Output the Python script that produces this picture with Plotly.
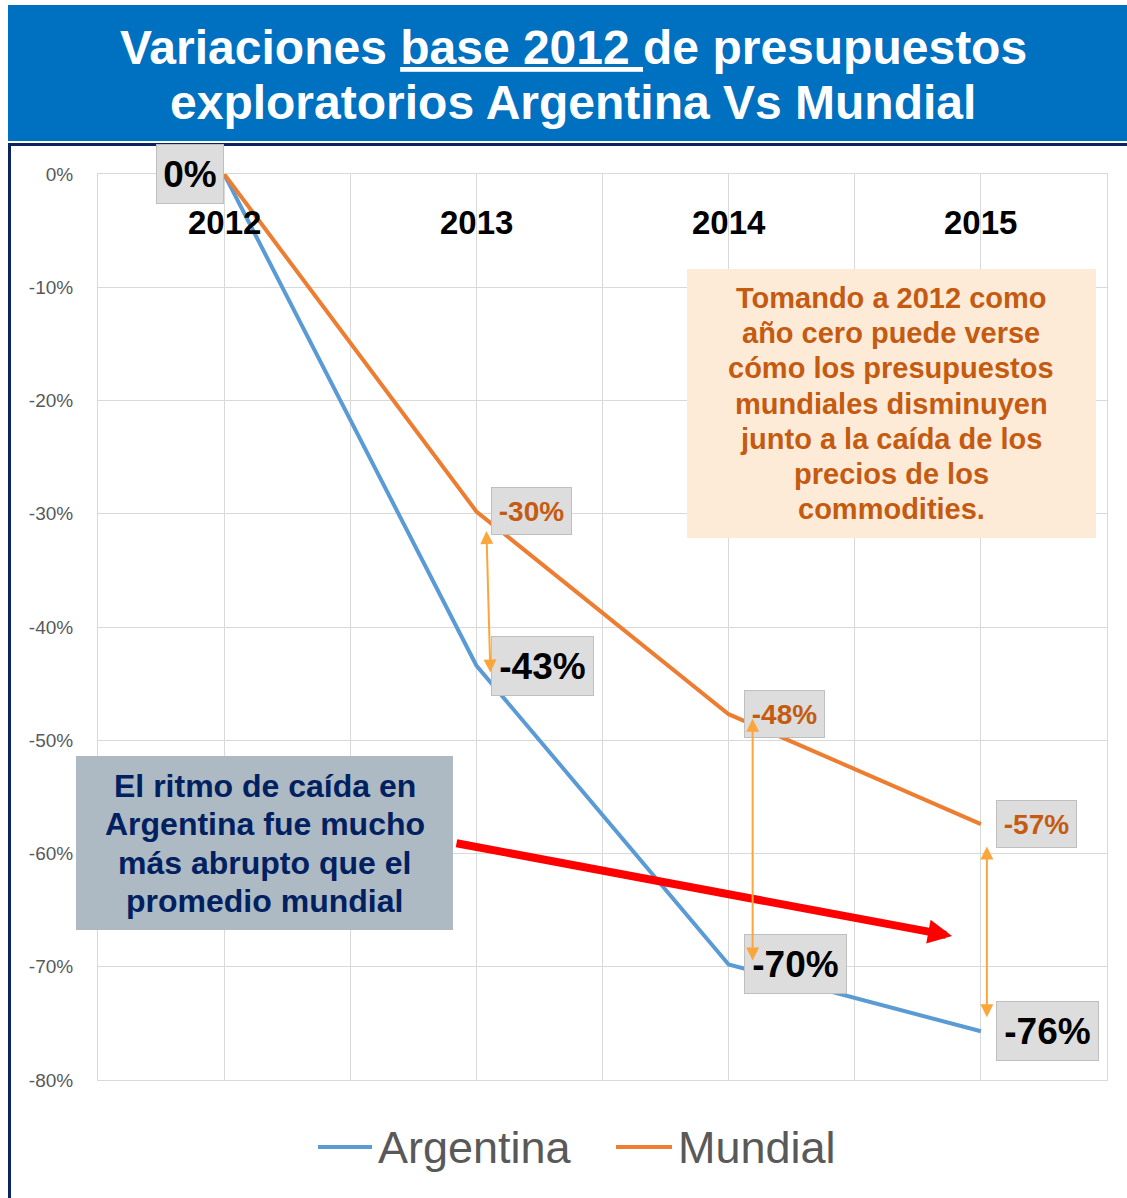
import plotly.graph_objects as go

# ---------------- data ----------------
years = ["2012", "2013", "2014", "2015"]
argentina = [0.0, -0.434, -0.698, -0.757]
mundial = [0.0, -0.298, -0.477, -0.574]
series_names = ["Argentina", "Mundial"]
y_ticks = [0.0, -0.1, -0.2, -0.3, -0.4, -0.5, -0.6, -0.7, -0.8]
y_tick_labels = ["0%", "-10%", "-20%", "-30%", "-40%", "-50%", "-60%", "-70%", "-80%"]
title_lines = ["Variaciones <u>base 2012 </u>de presupuestos",
               "exploratorios Argentina Vs Mundial"]
note_world = ["Tomando a 2012 como", "año cero puede verse", "cómo los presupuestos",
              "mundiales disminuyen", "junto a la caída de los", "precios de los",
              "commodities."]
note_arg = ["El ritmo de caída en", "Argentina fue mucho", "más abrupto que el",
            "promedio mundial"]

# ---------------- layout geometry ----------------
W, H = 1127, 1198
L, R, T, B = 98, 20, 174, 118
PW = W - L - R
PH = H - T - B
XUNIT = PW / len(years)          # px per category
YUNIT = PH / 0.8                 # px per 1.0 of y


def px(xp):
    return (xp - L) / PW


def py(yp):
    return (H - B - yp) / PH


FONT = "Liberation Sans, Arial, sans-serif"
BLUE = "#5B9BD5"
ORANGE = "#ED7D31"
ORANGE_TXT = "#C55A11"
ARROW = "#FBA63C"
GRID = "#D9D9D9"

xs = list(range(len(years)))
colors = [BLUE, ORANGE]

fig = go.Figure()
for name, vals, col in zip(series_names, [argentina, mundial], colors):
    fig.add_trace(go.Scatter(x=xs, y=vals, mode="lines", name=name,
                             line=dict(color=col, width=4), showlegend=False))

shapes = []
annotations = []

# title banner
shapes.append(dict(type="rect", xref="paper", yref="paper", x0=px(8), x1=px(1127),
                   y0=py(141), y1=py(5), fillcolor="#0070C0", line=dict(width=0),
                   layer="above"))
for ln, ycen in zip(title_lines, [47, 103]):
    annotations.append(dict(text=f"<b>{ln}</b>", xref="paper", yref="paper",
                            x=px(573), y=py(ycen), xanchor="center", yanchor="middle",
                            showarrow=False,
                            font=dict(family=FONT, size=48, color="white")))
# frame
shapes.append(dict(type="line", xref="paper", yref="paper", x0=px(8), x1=px(1127),
                   y0=py(144.5), y1=py(144.5), line=dict(color="#0B2460", width=3),
                   layer="above"))
shapes.append(dict(type="line", xref="paper", yref="paper", x0=px(9.5), x1=px(9.5),
                   y0=py(144), y1=py(1198), line=dict(color="#0B2460", width=3),
                   layer="above"))

# year labels inside plot
for i, yr in enumerate(years):
    annotations.append(dict(text=f"<b>{yr}</b>", x=i, y=0, xref="x", yref="y",
                            yshift=-48, showarrow=False, xanchor="center",
                            yanchor="middle",
                            font=dict(family=FONT, size=33, color="black")))

# orange note box
shapes.append(dict(type="rect", xref="paper", yref="paper", x0=px(687), x1=px(1096),
                   y0=py(538), y1=py(269), fillcolor="#FDEBD8", line=dict(width=0),
                   layer="above"))
for k, ln in enumerate(note_world):
    annotations.append(dict(text=f"<b>{ln}</b>", xref="paper", yref="paper",
                            x=px(891), y=py(298 + 35.2 * k), xanchor="center",
                            yanchor="middle", showarrow=False,
                            font=dict(family=FONT, size=29, color=ORANGE_TXT)))

# navy note box
shapes.append(dict(type="rect", xref="paper", yref="paper", x0=px(76), x1=px(453),
                   y0=py(930), y1=py(756), fillcolor="#ADB9C3", line=dict(width=0),
                   layer="above"))
# red arrow
annotations.append(dict(text="", xref="paper", yref="paper", x=px(952), y=py(936),
                        ax=455 - 952, ay=843 - 936, axref="pixel", ayref="pixel",
                        showarrow=True, arrowhead=2, arrowsize=0.6, arrowwidth=8,
                        arrowcolor="#FF0000"))
for k, ln in enumerate(note_arg):
    annotations.append(dict(text=f"<b>{ln}</b>", xref="paper", yref="paper",
                            x=px(264.5), y=py(786 + 38.4 * k), xanchor="center",
                            yanchor="middle", showarrow=False,
                            font=dict(family=FONT, size=32, color="#002060")))


def pct(v):
    return f"{round(v * 100):d}%"


# data labels
for i, v in enumerate(argentina):
    if i == 0:
        annotations.append(dict(text=f"<b>{pct(v)}</b>", x=i, y=v, xref="x", yref="y",
                                xanchor="right", yanchor="middle", showarrow=False,
                                width=66, height=58, bgcolor="#DDDDDD",
                                bordercolor="#BFBFBF", borderwidth=1, borderpad=0,
                                font=dict(family=FONT, size=37, color="black")))
    else:
        annotations.append(dict(text=f"<b>{pct(v)}</b>", x=i, y=v, xref="x", yref="y",
                                xanchor="left", yanchor="middle", xshift=15,
                                showarrow=False, width=101, height=58,
                                bgcolor="#DDDDDD", bordercolor="#BFBFBF",
                                borderwidth=1, borderpad=0,
                                font=dict(family=FONT, size=37, color="black")))
for i, v in enumerate(mundial):
    if i == 0:
        continue
    annotations.append(dict(text=f"<b>{pct(v)}</b>", x=i, y=v, xref="x", yref="y",
                            xanchor="left", yanchor="middle", xshift=15,
                            showarrow=False, width=79, height=46,
                            bgcolor="#DDDDDD", bordercolor="#BFBFBF",
                            borderwidth=1, borderpad=0,
                            font=dict(family=FONT, size=28, color=ORANGE_TXT)))

# double arrows between the series (pixel offsets from the data points)
arrow_offsets = {1: (10, 18, 14, 7), 2: (24, 3, 24, -4), 3: (6, 21, 6, -14)}
for i, (dxt, dyt, dxb, dyb) in arrow_offsets.items():
    annotations.append(dict(text="", xref="x", yref="y", axref="x", ayref="y",
                            x=i + dxb / XUNIT, y=argentina[i] - dyb / YUNIT,
                            ax=i + dxt / XUNIT, ay=mundial[i] - dyt / YUNIT,
                            showarrow=True, arrowside="end+start",
                            arrowhead=2, startarrowhead=2, arrowsize=1.3,
                            startarrowsize=1.3, arrowwidth=2, arrowcolor=ARROW))

# legend (drawn manually to match spacing)
legend_pos = [(318, 372, 376), (616, 672, 676)]
for name, col, (l0, l1, tx) in zip(series_names, colors, legend_pos):
    shapes.append(dict(type="line", xref="paper", yref="paper", x0=px(l0), x1=px(l1),
                       y0=py(1147), y1=py(1147), line=dict(color=col, width=4)))
    annotations.append(dict(text=name, xref="paper", yref="paper", x=px(tx),
                            y=py(1147), xanchor="left", yanchor="middle",
                            showarrow=False,
                            font=dict(family=FONT, size=45, color="#595959")))

fig.update_layout(
    width=W, height=H, autosize=False,
    margin=dict(l=L, r=R, t=T, b=B, pad=0),
    paper_bgcolor="white", plot_bgcolor="white",
    shapes=shapes, annotations=annotations,
    showlegend=False,
    xaxis=dict(range=[-0.5, len(years) - 0.5],
               tickvals=[j * 0.5 - 0.5 for j in range(2 * len(years) + 1)],
               showticklabels=False, showgrid=True, gridcolor=GRID, gridwidth=1,
               zeroline=False, showline=True, linecolor=GRID, mirror=True, ticks=""),
    yaxis=dict(range=[-0.8, 0], tickvals=y_ticks, ticktext=y_tick_labels,
               showgrid=True, gridcolor=GRID, gridwidth=1, zeroline=False,
               showline=True, linecolor=GRID, mirror=True, ticks="",
               ticklabelstandoff=20,
               tickfont=dict(family=FONT, size=19, color="#595959")),
)

fig.write_html("out.html", config={"displayModeBar": False},
               post_script="document.body.style.margin='0px';")
